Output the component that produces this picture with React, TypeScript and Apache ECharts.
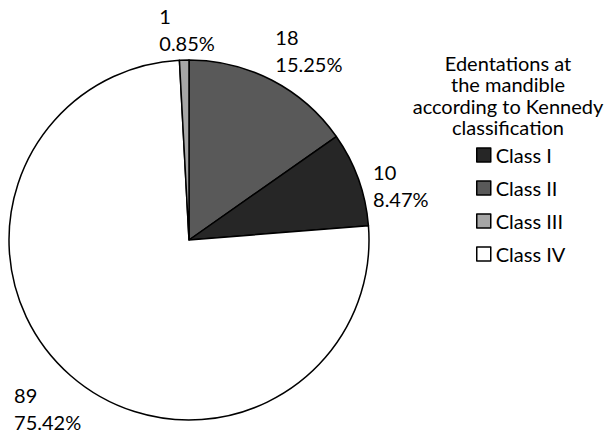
import React, { useEffect, useRef } from "react";
import * as echarts from "echarts";

const categories = ["Class I", "Class II", "Class III", "Class IV"];
const counts = [10, 18, 1, 89];
const sliceColors = ["#262626", "#595959", "#a6a6a6", "#ffffff"];
// clockwise order of slices starting at 12 o'clock (indices into categories)
const sliceOrder = [1, 0, 3, 2];
const legendTitle = "Edentations at\nthe mandible\naccording to Kennedy\nclassification";

const FONT = "Lato, 'Open Sans', sans-serif";
const RADIUS = 180;
const CENTER: [number, number] = [189, 240];
const LABEL_GAP = 5;
// small per-category nudges for label placement (style only): I, II, III, IV
const labelNudge: [number, number][] = [
  [10, 8],
  [1, 2],
  [3, 1],
  [14, 2],
];

export default function App() {
  const ref = useRef<HTMLDivElement>(null);
  useEffect(() => {
    if (!ref.current) return;
    const chart = echarts.init(ref.current, null, { renderer: "svg" });
    const ordered = sliceOrder.map((i) => ({
      name: categories[i],
      value: counts[i],
      itemStyle: { color: sliceColors[i] },
    }));
    const total = ordered.reduce((s, d) => s + d.value, 0);
    const cum: number[] = [];
    let acc = 0;
    ordered.forEach((d) => {
      cum.push(acc + d.value / 2);
      acc += d.value;
    });

    chart.setOption({
      animation: false,
      backgroundColor: "#ffffff",
      legend: {
        data: categories,
        orient: "vertical",
        left: 476,
        top: 145,
        padding: 0,
        itemWidth: 14,
        itemHeight: 14,
        itemGap: 13,
        icon: "rect",
        itemStyle: { borderColor: "#000", borderWidth: 1.5 },
        textStyle: { fontFamily: FONT, fontSize: 20, lineHeight: 20, color: "#000" },
      },
      graphic: [
        {
          type: "text",
          x: 508,
          y: 52,
          style: {
            text: legendTitle,
            align: "center",
            textAlign: "center",
            verticalAlign: "top",
            fontFamily: FONT,
            fontSize: 20,
            lineHeight: 21.5,
            fill: "#000",
          },
        },
      ],
      series: [
        {
          type: "pie",
          center: CENTER,
          radius: RADIUS,
          startAngle: 90,
          clockwise: true,
          data: ordered,
          itemStyle: { borderColor: "#000", borderWidth: 1.5 },
          emphasis: { disabled: true },
          labelLine: { show: false },
          label: {
            show: true,
            position: "outside",
            overflow: "none",
            formatter: (p: any) =>
              `${p.value}\n${((p.value / total) * 100).toFixed(2)}%`,
            fontFamily: FONT,
            fontSize: 20,
            lineHeight: 27,
            color: "#000",
          },
          labelLayout: (params: any) => {
            const i = params.dataIndex;
            const a = (cum[i] / total) * Math.PI * 2;
            const s = Math.sin(a);
            const c = Math.cos(a);
            const d = RADIUS + LABEL_GAP;
            const px = CENTER[0] + s * d;
            const py = CENTER[1] - c * d;
            const w = params.labelRect.width;
            const h = params.labelRect.height;
            const x = s > 0.2 ? px : s < -0.2 ? px - w : px - w / 2;
            const y = c > 0.6 ? py - h : c < -0.6 ? py : py - h / 2;
            const n = labelNudge[sliceOrder[i]];
            return {
              x: x + n[0],
              y: y + n[1],
              align: "left",
              verticalAlign: "top",
              width: w + 10,
            };
          },
        },
      ],
    });
    return () => chart.dispose();
  }, []);
  return (
    <div
      ref={ref}
      style={{ position: "fixed", left: 0, top: 0, width: 608, height: 435 }}
    />
  );
}
